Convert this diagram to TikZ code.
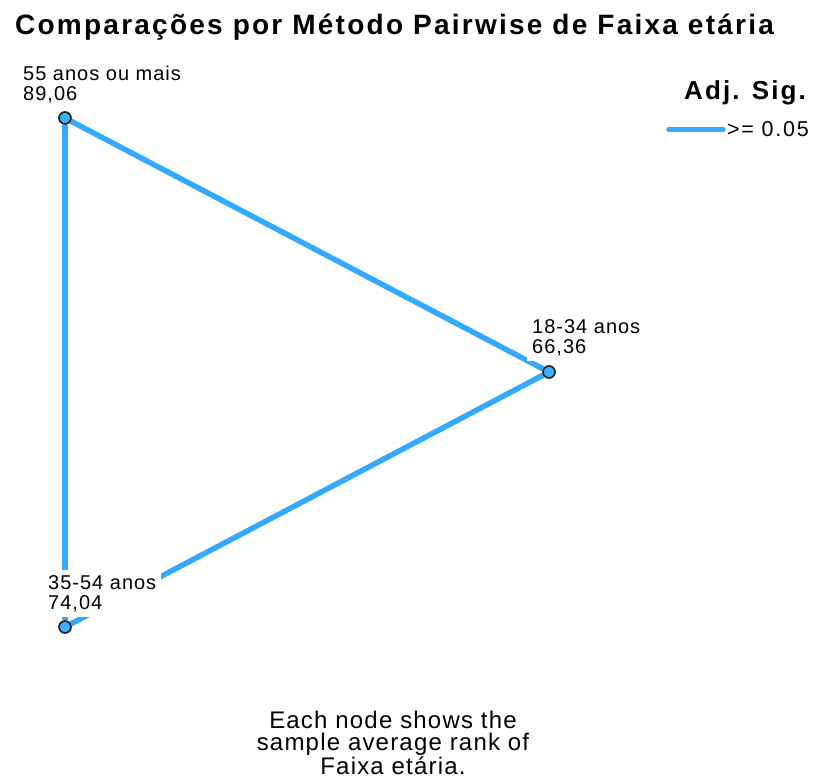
\documentclass[tikz,border=0pt]{standalone}
\usepackage{fontspec}
\setmainfont{Liberation Sans}
\newfontfamily\titlefont[LetterSpace=8]{Liberation Sans}
\newfontfamily\labfont[LetterSpace=5]{Liberation Sans}
\newfontfamily\notefont[LetterSpace=5]{Liberation Sans}
\newfontfamily\legfont[LetterSpace=8]{Liberation Sans}
\usepackage{xcolor}
\usepackage{tikz}
\usetikzlibrary{backgrounds,positioning}
\definecolor{sigblue}{RGB}{51,170,255}
\definecolor{dotblue}{RGB}{56,178,255}
\tikzset{
  rankdot/.style  = {circle, fill=dotblue, draw=black!85, line width=1.7pt,
                     minimum size=12pt, inner sep=0pt},
  ranklab/.style  = {fill=white, inner sep=5pt, align=left, anchor=north west,
                     font=\labfont\fontsize{20}{20}\selectfont},
  pairedge/.style = {sigblue, line width=5.5pt},
  legline/.style  = {sigblue, line width=5.5pt, line cap=round},
}
\begin{document}
\begin{tikzpicture}[x=1pt, y=-1pt]
\useasboundingbox (0,0) rectangle (816,778);
\node[anchor=base west, inner sep=0pt, font=\titlefont\bfseries\fontsize{28}{28}\selectfont] (title) at (15,35) {Comparações por Método Pairwise de Faixa etária};
\node[rankdot] (g55) at (65,118) {};
\node[rankdot] (g18) at (549,372) {};
\node[rankdot] (g35) at (65,627) {};
\begin{scope}[on background layer]
  \draw[pairedge] (g55) -- (g18);
  \draw[pairedge] (g55) -- (g35);
  \draw[pairedge] (g35) -- (g18);
\end{scope}
\node[ranklab] (l55) at (18,61) {55 anos ou mais\\89,06};
\node[ranklab] (l18) at (527,314) {18-34 anos\\66,36};
\node[ranklab] (l35) at (43,570) {35-54 anos\\74,04};
\node[anchor=base west, inner sep=0pt, font=\legfont\bfseries\fontsize{26}{26}\selectfont] (legtitle) at (684,100) {Adj. Sig.};
\node[anchor=base west, inner xsep=4pt, inner ysep=0pt, font=\legfont\fontsize{21.5}{21.5}\selectfont] (legval) at (723,136.7) {>= 0.05};
\coordinate (legA) at ([xshift=-54pt]legval.west);
\draw[legline] (legA) -- (legval.west);
\node[anchor=north, inner sep=0pt, align=center, font=\notefont\fontsize{24}{22}\selectfont] (note) at (393,711) {Each node shows the\\sample average rank of\\Faixa etária.};
\end{tikzpicture}
\end{document}
